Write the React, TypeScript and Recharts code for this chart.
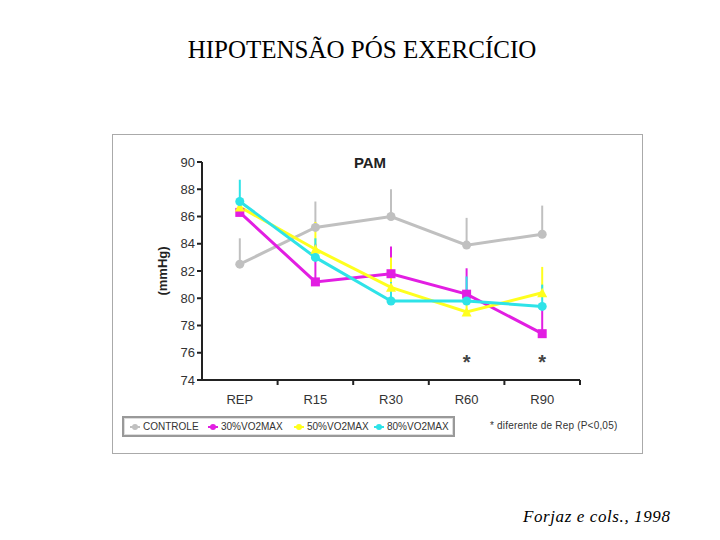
import { LineChart, Line, XAxis, YAxis, ErrorBar } from "recharts"

const categories = ["REP", "R15", "R30", "R60", "R90"]

const controle = [82.5, 85.2, 86.0, 83.9, 84.7]
const vo30 = [86.3, 81.2, 81.8, 80.3, 77.4]
const vo50 = [86.7, 83.6, 80.8, 79.0, 80.4]
const vo80 = [87.1, 83.0, 79.8, 79.8, 79.4]

// top of each (one-sided) error bar
const controleTop = [84.4, 87.1, 88.0, 85.9, 86.8]
const vo30Top = [86.6, 84.0, 83.8, 82.2, 79.6]
const vo50Top = [87.0, 85.6, 83.0, 80.6, 82.3]
const vo80Top = [88.7, 84.4, 81.2, 81.6, 81.0]

// asterisk = different from Rep (P<0.05)
const signif = [null, null, null, 75.5, 75.5]

const yTicks = [74, 76, 78, 80, 82, 84, 86, 88, 90]

const series = [
  { key: "controle", name: "CONTROLE", color: "#c0c0c0", shape: "circle", lx: 10 },
  { key: "vo30", name: "30%VO2MAX", color: "#e21ee2", shape: "square", lx: 88 },
  { key: "vo50", name: "50%VO2MAX", color: "#ffff1e", shape: "triangle", lx: 174 },
  { key: "vo80", name: "80%VO2MAX", color: "#2ee3e8", shape: "circle", lx: 254 },
]

const data = categories.map((name, i) => ({
  name,
  controle: controle[i],
  vo30: vo30[i],
  vo50: vo50[i],
  vo80: vo80[i],
  controleErr: [0, +(controleTop[i] - controle[i]).toFixed(2)],
  vo30Err: [0, +(vo30Top[i] - vo30[i]).toFixed(2)],
  vo50Err: [0, +(vo50Top[i] - vo50[i]).toFixed(2)],
  vo80Err: [0, +(vo80Top[i] - vo80[i]).toFixed(2)],
  sig: signif[i],
}))

const HALF_BAND = 378 / categories.length / 2

function makeDot(shape: string, color: string) {
  return (props: any) => {
    const { cx, cy, index } = props
    if (cx == null || cy == null) return <g key={index} />
    if (shape === "square")
      return <rect key={index} x={cx - 4.5} y={cy - 4.5} width={9} height={9} fill={color} />
    if (shape === "triangle")
      return (
        <polygon key={index} points={`${cx - 5},${cy + 4.5} ${cx + 5},${cy + 4.5} ${cx},${cy - 5}`} fill={color} />
      )
    return <circle key={index} cx={cx} cy={cy} r={4.5} fill={color} />
  }
}

function StarDot(props: any) {
  const { cx, cy, index } = props
  if (cx == null || cy == null) return <g key={index} />
  return (
    <text key={index} x={cx} y={cy + 9} textAnchor="middle" fontSize={20} fontWeight="bold" fill="#444" fontFamily="Liberation Sans, Arial">
      *
    </text>
  )
}

function XTick(props: any) {
  const { x, y, payload } = props
  return (
    <g>
      <line x1={x + HALF_BAND} x2={x + HALF_BAND} y1={y} y2={y + 5} stroke="#222" strokeWidth={2} />
      <text x={x} y={y + 24} textAnchor="middle" fontSize={13} fill="#333" fontFamily="Liberation Sans, Arial">
        {payload.value}
      </text>
    </g>
  )
}

function LegendBox() {
  return (
    <div
      style={{
        position: "absolute",
        left: 122,
        top: 416,
        width: 329,
        height: 17,
        border: "2px solid #999",
        boxShadow: "inset 0 0 0 1px #ddd",
        fontFamily: "Liberation Sans, Arial",
        fontSize: 10,
        color: "#333",
      }}
    >
      {series.map((s) => (
        <span key={s.key} style={{ position: "absolute", left: s.lx - 4, top: 3, display: "flex", alignItems: "center", whiteSpace: "nowrap" }}>
          <svg width={10} height={8} style={{ marginRight: 3 }}>
            <line x1={0} x2={10} y1={4} y2={4} stroke={s.color} strokeWidth={2} />
            <circle cx={5} cy={4} r={3} fill={s.color} />
          </svg>
          {s.name}
        </span>
      ))}
    </div>
  )
}

export default function App() {
  return (
    <div style={{ position: "absolute", left: 0, top: 0, width: 720, height: 540, background: "#fff" }}>
      <div
        style={{
          position: "absolute",
          left: 2,
          width: 720,
          top: 36,
          textAlign: "center",
          fontFamily: "Liberation Serif, Times New Roman, serif",
          fontSize: 25,
          color: "#000",
        }}
      >
        HIPOTENSÃO PÓS EXERCÍCIO
      </div>
      <div
        style={{
          position: "absolute",
          left: 112,
          top: 134,
          width: 529,
          height: 318,
          border: "1px solid #aaa",
        }}
      />
      <div
        style={{
          position: "absolute",
          left: 320,
          top: 154,
          width: 100,
          textAlign: "center",
          fontFamily: "Liberation Sans, Arial",
          fontWeight: "bold",
          fontSize: 15,
          color: "#222",
        }}
      >
        PAM
      </div>
      <div style={{ position: "absolute", left: 0, top: 0 }}>
        <LineChart width={720} height={540} data={data} margin={{ top: 162, right: 140, bottom: 130, left: 142 }}>
          <XAxis
            dataKey="name"
            scale="band"
            tick={<XTick />}
            tickLine={false}
            tickSize={0}
            tickMargin={0}
            axisLine={{ stroke: "#222", strokeWidth: 2 }}
            height={30}
            interval={0}
          />
          <YAxis
            domain={[74, 90]}
            ticks={yTicks}
            width={60}
            allowDataOverflow
            tick={{ fontSize: 13, fill: "#333", fontFamily: "Liberation Sans, Arial" }}
            tickLine={{ stroke: "#222", strokeWidth: 2 }}
            tickSize={5}
            axisLine={{ stroke: "#222", strokeWidth: 2 }}
            label={{
              value: "(mmHg)",
              angle: -90,
              position: "insideLeft",
              offset: 20,
              style: { textAnchor: "middle", fontWeight: "bold", fontSize: 13, fill: "#222", fontFamily: "Liberation Sans, Arial" },
            }}
          />
          {series.map((s) => (
            <Line
              key={s.key}
              dataKey={s.key}
              name={s.name}
              stroke={s.color}
              strokeWidth={3}
              dot={makeDot(s.shape, s.color)}
              activeDot={false}
              isAnimationActive={false}
            >
              <ErrorBar dataKey={`${s.key}Err`} direction="y" width={0} stroke={s.color} strokeWidth={2} isAnimationActive={false} />
            </Line>
          ))}
          <Line dataKey="sig" stroke="none" dot={StarDot} activeDot={false} isAnimationActive={false} legendType="none" />
        </LineChart>
      </div>
      <LegendBox />
      <div
        style={{
          position: "absolute",
          left: 490,
          top: 420,
          fontFamily: "Liberation Sans, Arial",
          fontSize: 10,
          letterSpacing: 0.2,
          color: "#333",
        }}
      >
        * diferente de Rep (P&lt;0,05)
      </div>
      <div
        style={{
          position: "absolute",
          left: 523,
          top: 507,
          fontFamily: "Liberation Serif, Times New Roman, serif",
          fontStyle: "italic",
          fontSize: 17,
          letterSpacing: 0.6,
          color: "#000",
        }}
      >
        Forjaz e cols., 1998
      </div>
    </div>
  )
}
